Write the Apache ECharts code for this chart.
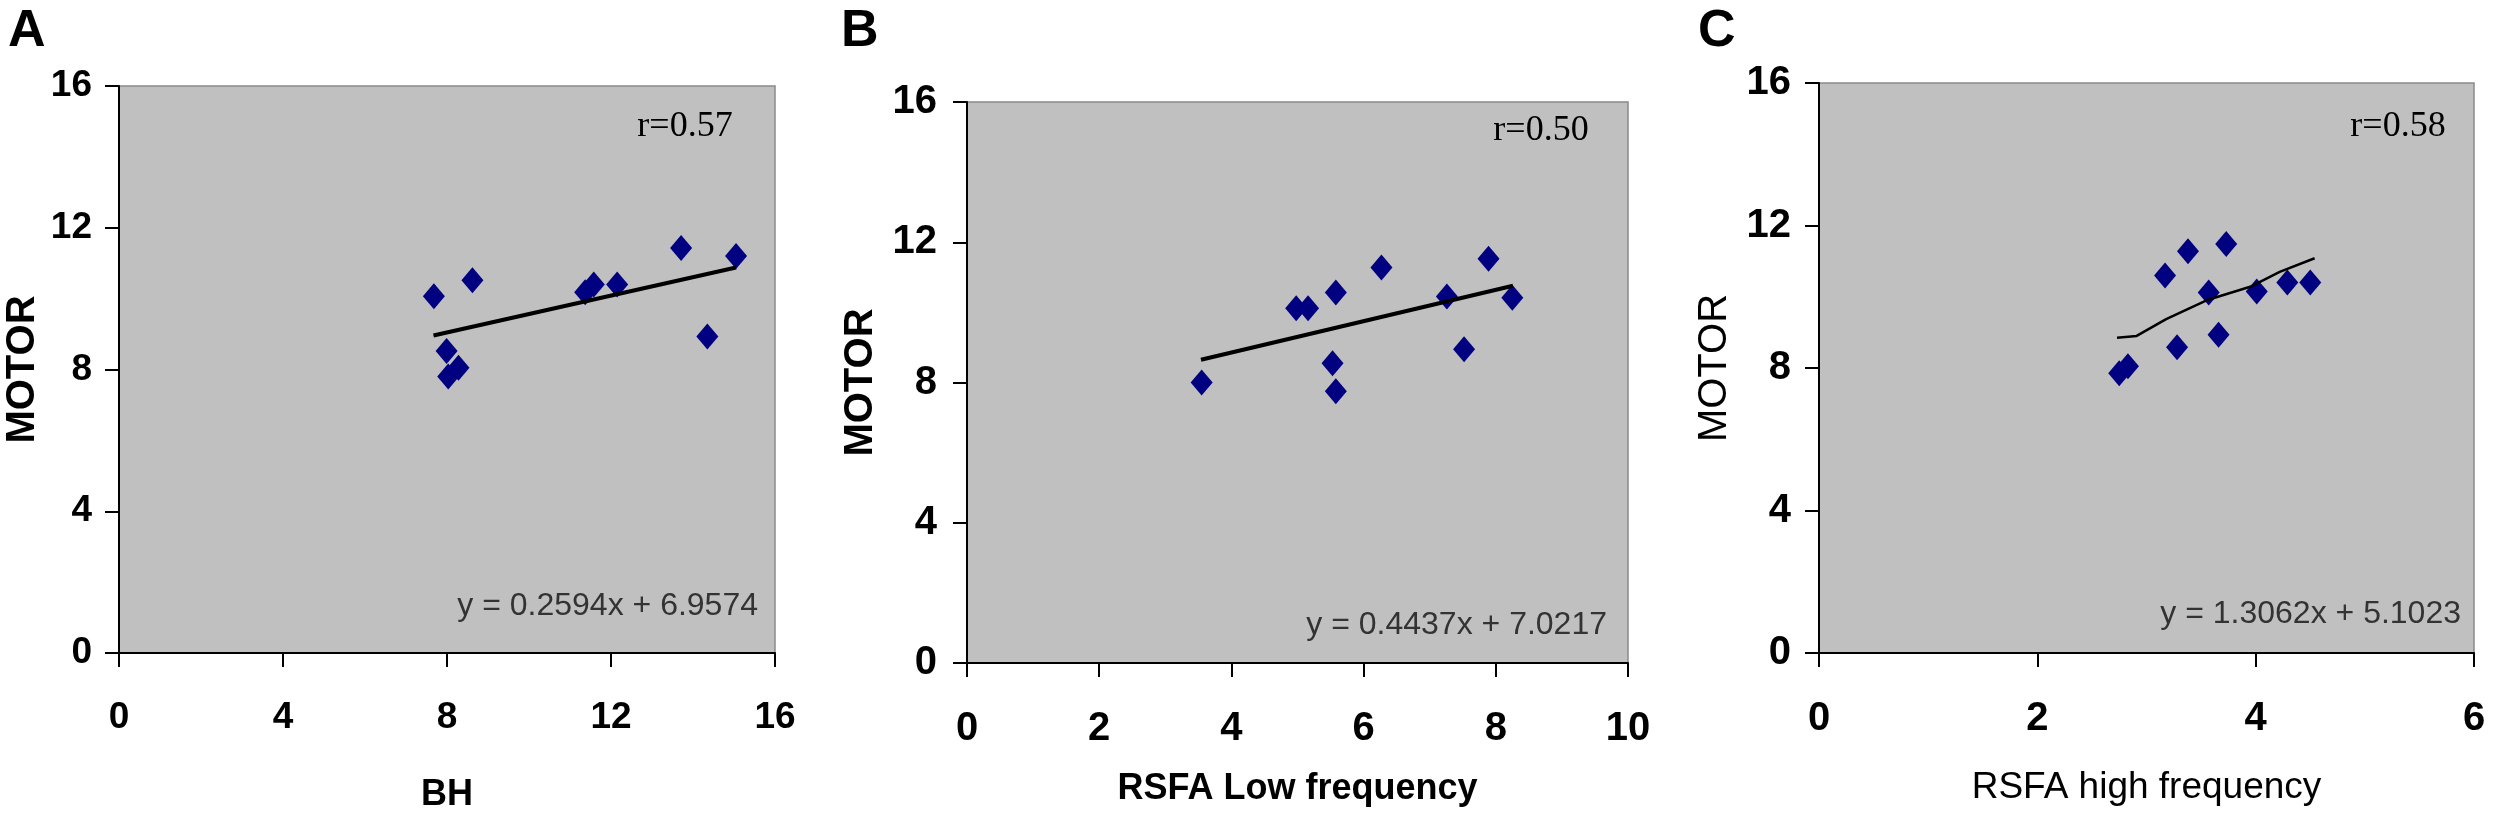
<!DOCTYPE html>
<html>
<head>
<meta charset="utf-8">
<script src="https://cdn.jsdelivr.net/npm/echarts@6/dist/echarts.min.js"></script>
<style>
  html, body { margin: 0; padding: 0; background: #fff; }
  #chart { width: 2500px; height: 832px; }
</style>
</head>
<body>
<div id="chart"></div>
<script>
// panel A: BH vs MOTOR
var bhX = [7.68, 8.62, 7.99, 8.03, 8.28, 11.37, 11.58, 12.15, 13.71, 14.35, 15.05];
var bhY = [10.07, 10.52, 8.52, 7.80, 8.05, 10.18, 10.40, 10.40, 11.43, 8.93, 11.20];
var bhTrendX = [7.67, 15.05];
var bhTrendY = [8.96, 10.88];

// panel B: RSFA low frequency vs MOTOR
var lfX = [3.55, 4.98, 5.16, 5.58, 5.53, 5.58, 6.27, 7.26, 7.52, 7.89, 8.25];
var lfY = [8.00, 10.12, 10.12, 10.57, 8.55, 7.75, 11.28, 10.45, 8.95, 11.53, 10.42];
var lfTrendX = [3.54, 8.26];
var lfTrendY = [8.65, 10.76];

// panel C: RSFA high frequency vs MOTOR
var hfX = [2.75, 2.83, 3.17, 3.38, 3.73, 3.28, 3.57, 3.66, 4.01, 4.29, 4.50];
var hfY = [7.85, 8.05, 10.60, 11.28, 11.48, 8.58, 10.12, 8.93, 10.15, 10.40, 10.40];
var hfTrendX = [2.73, 2.91, 3.18, 3.55, 3.95, 4.22, 4.54];
var hfTrendY = [8.85, 8.90, 9.37, 9.90, 10.28, 10.70, 11.08];

var xMaxA = 16, xMaxB = 10, xMaxC = 6;

var panelLetters = ['A', 'B', 'C'];
var rLabels = ['r=0.57', 'r=0.50', 'r=0.58'];
var eqLabels = ['y = 0.2594x + 6.9574', 'y = 0.4437x + 7.0217', 'y = 1.3062x + 5.1023'];
var xNames = ['BH', 'RSFA Low frequency', 'RSFA high frequency'];
var yName = 'MOTOR';

function pairs(xs, ys) {
  return xs.map(function (x, i) { return [x, ys[i]]; });
}

var sans = '"Liberation Sans", Arial, sans-serif';
var serif = '"Liberation Serif", "Times New Roman", serif';

var grids = [
  { left: 119, top: 86, width: 656, height: 567 },
  { left: 967, top: 102, width: 661, height: 561 },
  { left: 1819, top: 83, width: 655, height: 570 }
];
grids.forEach(function (g) {
  g.show = true;
  g.backgroundColor = '#c0c0c0';
  g.borderColor = '#8a8a8a';
  g.borderWidth = 1.5;
  g.containLabel = false;
});

function xAxis(idx, max, interval, fontSize, name, nameBold, nameGap) {
  return {
    type: 'value', gridIndex: idx, min: 0, max: max, interval: interval,
    axisLine: { show: true, onZero: false, lineStyle: { color: '#000', width: 2 } },
    axisTick: { show: true, length: 14, lineStyle: { color: '#000', width: 2 } },
    axisLabel: { margin: 46, color: '#000', fontFamily: sans, fontWeight: 'bold', fontSize: fontSize },
    splitLine: { show: false },
    name: name, nameLocation: 'middle', nameGap: nameGap,
    nameTextStyle: { color: '#000', fontFamily: sans, fontWeight: nameBold ? 'bold' : 'normal', fontSize: nameBold ? 36 : 37 }
  };
}

function yAxis(idx, fontSize, margin, nameBold, nameGap) {
  return {
    type: 'value', gridIndex: idx, min: 0, max: 16, interval: 4,
    axisLine: { show: true, onZero: false, lineStyle: { color: '#000', width: 2 } },
    axisTick: { show: true, length: 14, lineStyle: { color: '#000', width: 2 } },
    axisLabel: { margin: margin, color: '#000', fontFamily: sans, fontWeight: 'bold', fontSize: fontSize },
    splitLine: { show: false },
    name: yName, nameLocation: 'middle', nameGap: nameGap,
    nameTextStyle: { color: '#000', fontFamily: sans, fontWeight: nameBold ? 'bold' : 'normal', fontSize: 40 }
  };
}

function scatter(idx, xs, ys) {
  return {
    type: 'scatter', xAxisIndex: idx, yAxisIndex: idx,
    symbol: 'diamond', symbolSize: [22, 26],
    itemStyle: { color: '#000080', opacity: 1 }, data: pairs(xs, ys), z: 3
  };
}

function trend(idx, xs, ys, width) {
  return {
    type: 'line', xAxisIndex: idx, yAxisIndex: idx,
    showSymbol: false,
    lineStyle: { color: '#000', width: width },
    data: pairs(xs, ys), z: 4
  };
}

var letterX = [8, 841, 1698];
var rPos = [[685, 127], [1541, 131], [2398, 127]];
var eqPos = [[758, 606], [1607, 625], [2461, 614]];

var graphics = [];
panelLetters.forEach(function (t, i) {
  graphics.push({ type: 'text', x: letterX[i], y: 6, style: { text: t, font: 'bold 52px ' + sans, fill: '#000' } });
  graphics.push({ type: 'text', x: rPos[i][0], y: rPos[i][1], z: 10,
    style: { text: rLabels[i], font: '36px ' + serif, fill: '#000', align: 'center', verticalAlign: 'middle' } });
  graphics.push({ type: 'text', x: eqPos[i][0], y: eqPos[i][1], z: 10,
    style: { text: eqLabels[i], font: '32px ' + sans, fill: '#333', align: 'right', verticalAlign: 'middle' } });
});

var option = {
  backgroundColor: '#fff',
  animation: false,
  grid: grids,
  xAxis: [
    xAxis(0, xMaxA, 4, 37, xNames[0], true, 124),
    xAxis(1, xMaxB, 2, 40, xNames[1], true, 108),
    xAxis(2, xMaxC, 2, 40, xNames[2], false, 116)
  ],
  yAxis: [
    yAxis(0, 37, 27, true, 76),
    yAxis(1, 40, 30, true, 86),
    yAxis(2, 40, 28, false, 84)
  ],
  series: [
    scatter(0, bhX, bhY), trend(0, bhTrendX, bhTrendY, 4),
    scatter(1, lfX, lfY), trend(1, lfTrendX, lfTrendY, 4),
    scatter(2, hfX, hfY), trend(2, hfTrendX, hfTrendY, 2.5)
  ],
  graphic: graphics
};

var chart = echarts.init(document.getElementById('chart'));
chart.setOption(option);
</script>
</body>
</html>
